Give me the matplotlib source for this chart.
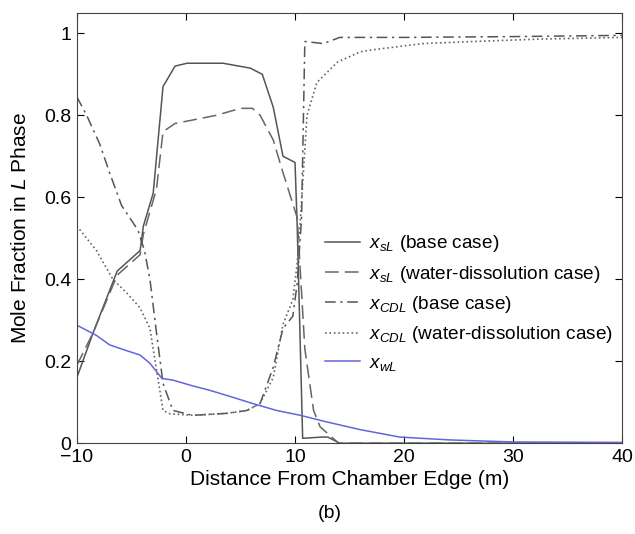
import numpy as np
import matplotlib
matplotlib.use("Agg")
import matplotlib.pyplot as plt

plt.rcParams['font.family'] = ['Liberation Sans', 'DejaVu Sans']
plt.rcParams['mathtext.fontset'] = 'custom'
plt.rcParams['mathtext.rm'] = 'Liberation Sans'
plt.rcParams['mathtext.it'] = 'Liberation Sans:italic'

# x_sL, base case
xs_base = [-10, -8.5, -6.3, -4.2, -3.9, -3.0, -2.1, -1.0, 0.1, 3.4, 5.9, 7.0, 8.0, 8.9, 10.0, 10.2, 10.7, 12.5, 13.0, 14.1, 40]
ys_base = [0.16, 0.27, 0.42, 0.47, 0.53, 0.61, 0.87, 0.92, 0.927, 0.927, 0.915, 0.90, 0.82, 0.70, 0.685, 0.53, 0.012, 0.015, 0.015, 0.0, 0.0]

# x_sL, water-dissolution case
xs_wat = [-10, -8.5, -6.3, -4.2, -3.9, -2.7, -2.1, -1.0, 2.8, 5.0, 6.1, 6.8, 8.0, 8.9, 10.2, 10.9, 11.7, 12.3, 14.0, 40]
ys_wat = [0.19, 0.27, 0.41, 0.46, 0.51, 0.62, 0.76, 0.78, 0.80, 0.817, 0.817, 0.80, 0.74, 0.66, 0.55, 0.23, 0.08, 0.04, 0.0, 0.0]

# x_CDL, base case
xc_base = [-10, -9.1, -7.9, -7.0, -5.9, -4.4, -3.8, -3.3, -2.7, -2.1, -1.2, 0.6, 3.8, 5.6, 6.8, 8.0, 8.9, 9.8, 10.2, 10.6, 10.9,
           12.6, 14.1, 20, 30, 40]
yc_base = [0.845, 0.80, 0.73, 0.66, 0.58, 0.52, 0.47, 0.40, 0.27, 0.146, 0.08, 0.068, 0.073, 0.08, 0.097, 0.185, 0.28, 0.31, 0.39, 0.55, 0.98,
           0.975, 0.99, 0.99, 0.992, 0.995]

# x_CDL, water-dissolution case
xc_wat = [-10, -8.2, -6.7, -5.4, -4.2, -3.3, -2.7, -2.1, -1.5, 0.6, 3.8, 5.6, 6.8, 8.0, 8.9, 9.8, 10.2, 10.5, 11.1, 12.0, 13.9,
          16.0, 17.2, 21.7, 26.3, 32.5, 40]
yc_wat = [0.53, 0.47, 0.40, 0.366, 0.33, 0.28, 0.18, 0.08, 0.072, 0.068, 0.073, 0.08, 0.097, 0.16, 0.29, 0.35, 0.44, 0.55, 0.80, 0.88, 0.93,
          0.955, 0.96, 0.975, 0.98, 0.986, 0.99]

# x_wL
xw = [-10, -8.2, -7.0, -5.8, -4.2, -3.3, -2.2, -1.2, 0.6, 2.2, 4.3, 6.1, 8.3, 10.5, 12.9, 16.0, 19.6, 24.2, 30, 40]
yw = [0.288, 0.263, 0.24, 0.229, 0.215, 0.195, 0.158, 0.154, 0.14, 0.129, 0.112, 0.097, 0.08, 0.068, 0.052, 0.033, 0.015, 0.008, 0.003, 0.002]

fig = plt.figure(figsize=(6.35, 5.34), dpi=100)
ax = fig.add_axes([0.121, 0.170, 0.859, 0.806])

ax.plot(xs_base, ys_base, '-', color='#555555', lw=1.1, label=r'$x_{sL}$ (base case)')
ax.plot(xs_wat, ys_wat, '--', color='#666666', lw=1.1, dashes=(9, 4), label=r'$x_{sL}$ (water-dissolution case)')
ax.plot(xc_base, yc_base, '-.', color='#555555', lw=1.1, dashes=(7, 3, 1.5, 3), label=r'$x_{CDL}$ (base case)')
ax.plot(xc_wat, yc_wat, ':', color='#666666', lw=1.2, label=r'$x_{CDL}$ (water-dissolution case)')
ax.plot(xw, yw, '-', color='#6464dc', lw=1.1, label=r'$x_{wL}$')

ax.set_xlim(-10, 40)
ax.set_ylim(0, 1.05)
ax.set_xticks([-10, 0, 10, 20, 30, 40])
ax.set_yticks([0, 0.2, 0.4, 0.6, 0.8, 1])
ax.set_yticklabels(['0', '0.2', '0.4', '0.6', '0.8', '1'])
ax.tick_params(direction='in', top=True, right=True, labelsize=14, length=5, pad=4)
for s in ax.spines.values():
    s.set_color('#444444')

ax.set_xlabel('Distance From Chamber Edge (m)', fontsize=15, labelpad=3)
ax.set_ylabel(r'Mole Fraction in $L$ Phase', fontsize=15, labelpad=10)

ax.legend(loc='upper left', bbox_to_anchor=(0.441, 0.505), frameon=False, fontsize=13.7,
          handlelength=1.85, handletextpad=0.45, labelspacing=0.49, borderaxespad=0)

fig.text(0.52, 0.03, '(b)', ha='center', fontsize=14)

fig.savefig('out.png', dpi=100)
